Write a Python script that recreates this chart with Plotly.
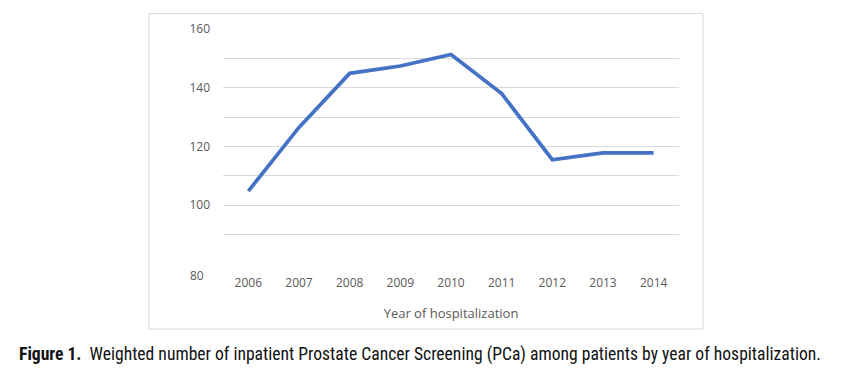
import plotly.graph_objects as go

years = ["2006", "2007", "2008", "2009", "2010", "2011", "2012", "2013", "2014"]
values = [104.8, 126.5, 144.9, 147.4, 151.3, 138.0, 115.5, 117.8, 117.8]
y_ticks = [80, 90, 100, 110, 120, 130, 140, 150, 160]
y_labels = ["", "", "100", "", "120", "", "140", "", "160"]

# page body has an 8px default margin; compensate so pixel positions match
OFF = 8
W, H = 864 - 2 * OFF, 383 - 2 * OFF
L, R, T, B = 223 - OFF, 679 - OFF, 22 - OFF, 264 - OFF


def px(x):
    return (x - OFF - L) / (R - L)


def py(y):
    return (B - (y - OFF)) / (B - T)


fig = go.Figure()
fig.add_trace(go.Scatter(x=years, y=values, mode="lines",
                         line=dict(color="#4472C4", width=3.7)))

fig.update_layout(
    width=W, height=H,
    margin=dict(l=L, r=W - R, t=T, b=H - B, pad=0),
    paper_bgcolor="white", plot_bgcolor="white",
    showlegend=False,
    font=dict(family="Open Sans, Liberation Sans, sans-serif", color="#595959", size=12),
    xaxis=dict(type="category", range=[-0.5, 8.5], showgrid=False, zeroline=False,
               showline=False, ticks="", tickfont=dict(size=12, color="#595959"),
               ticklabelstandoff=10,
               title=dict(text="Year of hospitalization", font=dict(size=13, color="#595959"),
                          standoff=18)),
    yaxis=dict(range=[80, 160], tickvals=y_ticks, ticktext=y_labels, showgrid=True,
               gridcolor="#d9d9d9", gridwidth=1, zeroline=False, showline=False,
               ticks="", tickfont=dict(size=12, color="#595959"), ticklabelstandoff=12),
    shapes=[dict(type="rect", xref="paper", yref="paper",
                 x0=px(149), x1=px(703), y0=py(331), y1=py(6),
                 line=dict(color="#d9d9d9", width=1), fillcolor="rgba(0,0,0,0)",
                 layer="below")],
    annotations=[
        dict(text="80", xref="paper", yref="y", x=px(206), y=80,
             xanchor="right", yanchor="middle", yshift=-11, showarrow=False,
             font=dict(size=12, color="#595959")),
        dict(text="<b>Figure 1.</b>  Weighted number of inpatient Prostate Cancer Screening (PCa) among patients by year of hospitalization.",
             xref="paper", yref="paper", x=px(17), y=py(357),
             xanchor="left", yanchor="middle", showarrow=False,
             font=dict(family="Liberation Sans Narrow, Roboto Condensed, Liberation Sans, sans-serif",
                       size=17.6, color="#111111")),
    ],
)

fig.write_html("out.html")
